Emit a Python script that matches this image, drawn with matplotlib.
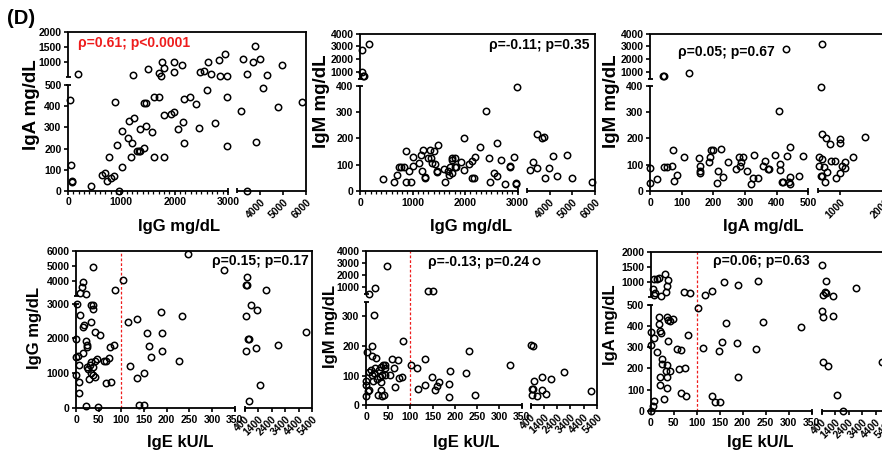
import numpy as np
import matplotlib
matplotlib.use("Agg")
import matplotlib.pyplot as plt

plt.rcParams["font.family"] = ["Liberation Sans", "DejaVu Sans"]
plt.rcParams["font.weight"] = "bold"

W, H = 882, 458
RED = "#ee1c1c"
IGE_CUTOFF = 100

# ---- data: (x, y) pairs ----
igg_iga = [
    (187, 600), (1219, 578), (1494, 767), (1706, 622), (1738, 534), (1769, 1000), (1800, 789),
    (1988, 1000), (1981, 656), (2131, 889), (2469, 656), (2550, 700), (2619, 1000), (2681, 600),
    (2838, 1078), (2850, 545), (2938, 1278), (2988, 545), (3275, 1100), (3435, 600), (3681, 1000),
    (3768, 1544), (3986, 1111), (4319, 567), (4971, 889),
    (31, 430), (50, 123), (69, 44), (81, 40), (425, 24), (638, 76), (694, 85), (738, 46),
    (769, 161), (806, 60), (863, 71), (888, 421), (925, 215), (956, 0), (1013, 111), (1013, 283),
    (1131, 252), (1150, 331), (1175, 160), (1194, 228), (1244, 343), (1288, 190), (1325, 190),
    (1344, 291), (1356, 190), (1419, 201), (1419, 414), (1463, 414), (1463, 307), (1569, 278),
    (1613, 161), (1619, 443), (1706, 446), (1806, 161), (1806, 359), (1931, 364), (1981, 373),
    (2069, 293), (2156, 326), (2181, 433), (2181, 228), (2294, 446), (2394, 410), (2450, 297),
    (2613, 476), (2756, 323), (2975, 445), (2975, 212), (3159, 380), (3435, 0), (3812, 233),
    (4130, 487), (4768, 399), (5826, 421),
]

igg_igm = [
    (32, 2736), (177, 3183), (40, 950), (55, 700), (85, 680),
    (2981, 396), (2392, 306), (3426, 219), (3676, 200), (3750, 204), (1981, 200), (2614, 181),
    (2291, 167), (1487, 177), (867, 154), (1190, 158), (1329, 158), (1405, 153), (1152, 138),
    (1000, 128), (1285, 125), (1354, 127), (1741, 125), (1804, 125), (1741, 117), (1924, 111),
    (2184, 130), (2127, 115), (2456, 124), (2677, 119), (2937, 128), (4147, 134), (4765, 138),
    (3250, 111), (3147, 81), (3441, 87), (3956, 86), (4309, 57), (3794, 51), (4970, 49),
    (5853, 34), (741, 92), (779, 92), (835, 92), (1013, 95), (1127, 108), (1171, 77), (1228, 54),
    (1240, 49), (1361, 105), (1424, 101), (1456, 77), (1460, 73), (1595, 82), (1665, 75),
    (1709, 92), (1759, 67), (1804, 92), (1835, 92), (1987, 80), (2070, 101), (2139, 51),
    (2171, 51), (1620, 35), (1684, 61), (430, 44), (652, 35), (696, 61), (873, 33), (968, 33),
    (930, 76), (2468, 34), (2544, 70), (2608, 57), (2759, 27), (2848, 94), (2861, 92),
    (2975, 32), (2975, 27),
]

iga_igm = [
    (41, 684), (45, 684), (122, 895), (428, 2788), (597, 3209),
    (560, 396), (407, 306), (597, 219), (672, 200), (769, 179), (1000, 198), (1000, 184),
    (1544, 204), (0, 86), (0, 32), (23, 44), (44, 90), (55, 90), (68, 95), (72, 156), (75, 38),
    (84, 61), (107, 129), (156, 127), (158, 96), (158, 77), (158, 70), (185, 109), (188, 129),
    (193, 156), (198, 158), (224, 160), (214, 76), (211, 32), (229, 52), (246, 109), (273, 82),
    (282, 129), (284, 95), (293, 128), (288, 109), (305, 76), (320, 28), (324, 51), (327, 139),
    (342, 51), (356, 96), (363, 114), (374, 82), (377, 82), (395, 139), (412, 103), (412, 80),
    (416, 35), (421, 35), (432, 132), (439, 35), (441, 28), (443, 54), (442, 167), (471, 57),
    (482, 135), (515, 128), (597, 120), (530, 96), (634, 92), (694, 71), (560, 58), (597, 57),
    (657, 35), (791, 113), (880, 114), (895, 51), (992, 67), (1044, 96), (1104, 86), (1111, 111),
    (1283, 129),
]

ige_igg = [
    (37, 4956), (16, 3955), (13, 3644), (9, 3222), (22, 3155), (103, 4111), (85, 3422),
    (248, 5822), (327, 4778), (560, 4289), (486, 3778), (560, 3778), (1968, 3422),
    (3, 3000), (32, 2951), (37, 2970), (38, 2855), (9, 2684), (16, 2329), (18, 2396), (32, 2482),
    (43, 2195), (54, 2090), (0, 1994), (22, 1936), (24, 1821), (25, 1764), (15, 1582), (1, 1467),
    (5, 1486), (7, 1246), (32, 1323), (31, 1246), (46, 1419), (42, 1361), (25, 1169), (27, 1121),
    (37, 1169), (38, 959), (33, 1006), (42, 891), (29, 834), (0, 959), (7, 748), (6, 431),
    (66, 709), (77, 757), (62, 1342), (66, 1361), (73, 1438), (74, 1744), (84, 1821), (21, 48),
    (48, 29), (115, 2463), (119, 1217), (134, 872), (150, 1006), (134, 2568), (157, 2157),
    (160, 1773), (165, 1467), (188, 2768), (190, 2147), (189, 1629), (228, 1361), (234, 2635),
    (140, 77), (150, 77), (486, 2635), (510, 1629), (659, 1994), (700, 1994), (1227, 1716),
    (906, 2949), (1301, 2824), (2906, 1821), (1548, 671), (758, 192), (4930, 2185),
]

ige_igm = [
    (47, 2754), (20, 918), (7, 430), (139, 699), (150, 699), (777, 3192),
    (18, 306), (84, 218), (14, 199), (3, 179), (14, 167), (22, 160), (59, 157), (73, 154),
    (133, 157), (231, 182), (101, 136), (114, 126), (325, 137), (226, 108), (189, 115),
    (400, 204), (601, 201), (1280, 96), (1933, 89), (2913, 113), (676, 83), (526, 56), (601, 55),
    (526, 36), (852, 33), (1229, 53), (1531, 39), (4948, 49),
    (0, 81), (1, 70), (6, 112), (11, 120), (14, 103), (19, 109), (24, 90), (29, 120), (34, 128),
    (39, 137), (43, 126), (37, 103), (31, 94), (16, 81), (5, 47), (7, 52), (0, 33), (27, 36),
    (34, 79), (34, 51), (35, 30), (40, 36), (54, 101), (63, 126), (65, 62), (74, 92), (80, 96),
    (43, 103), (20, 126), (43, 137), (133, 70), (148, 94), (160, 66), (155, 51), (165, 79),
    (118, 55), (187, 73), (187, 27), (246, 36),
]

ige_iga = [
    (7, 1100), (13, 1111), (18, 1133), (31, 1278), (38, 1078), (35, 867), (4, 778), (9, 633),
    (22, 522), (33, 656), (7, 578), (73, 656), (85, 622), (118, 567), (134, 700), (159, 1000),
    (190, 889), (233, 1022), (450, 1556), (697, 1022), (648, 667), (722, 633), (474, 578),
    (1266, 544), (2949, 800),
    (103, 484), (17, 443), (18, 409), (35, 440), (38, 429), (43, 425), (48, 432), (20, 378),
    (22, 365), (0, 371), (0, 309), (7, 343), (38, 327), (82, 359), (14, 277), (25, 246),
    (25, 221), (36, 215), (33, 190), (42, 186), (20, 160), (35, 160), (20, 124), (36, 108),
    (28, 55), (57, 291), (65, 288), (61, 196), (74, 202), (66, 86), (77, 69), (7, 45), (4, 25),
    (0, 0), (114, 295), (149, 280), (156, 324), (163, 414), (188, 320), (190, 158), (228, 293),
    (245, 417), (326, 396), (134, 72), (139, 41), (151, 44),
    (450, 472), (474, 440), (524, 229), (870, 212), (1217, 445), (1514, 74), (1984, 2), (4855, 229),
]

# ---- tick sets ----
igg_ticks = [0, 1000, 2000, 3000, 4000, 5000, 6000]
igg_rot = [4000, 5000, 6000]
igg_minor = [v for v in range(100, 3000, 100) if v % 1000]
iga_ticks = [0, 100, 200, 300, 400, 500, 1000, 2000]
iga_rot = [1000, 2000]
ige_ticks = [0, 50, 100, 150, 200, 250, 300, 350, 400, 1400, 2400, 3400, 4400, 5400]
ige_rot = [400, 1400, 2400, 3400, 4400, 5400]
iga_yticks_a = [0, 100, 200, 300, 400, 500, 1000, 1500, 2000]
igm_yticks_a = [0, 100, 200, 300, 400, 1000, 2000, 3000, 4000]
igg_yticks = [0, 1000, 2000, 3000, 4000, 5000, 6000]
igm_yticks_b = [0, 100, 200, 300, 1000, 2000, 3000, 4000]

fig = plt.figure(figsize=(W / 100, H / 100), dpi=100)


def piecewise(segs):
    d, f = [], []
    for d0, d1, f0, f1 in segs:
        if d and d0 <= d[-1]:
            d0 = d[-1] + 1e-6
        d += [d0, d1]
        f += [f0, f1]
    d, f = np.array(d, float), np.array(f, float)
    return (lambda v: np.interp(v, d, f)), (lambda v: np.interp(v, f, d))


def panel(xsegs, ysegs, pts, xticks, xrot, yticks, xminor=None, cutoff=False):
    # segments given as (data0, data1, pixel0, pixel1); y pixels counted from top
    left, right = xsegs[0][2], xsegs[-1][3]
    bot, top = ysegs[0][2], ysegs[-1][3]
    ax = fig.add_axes([left / W, 1 - bot / H, (right - left) / W, (bot - top) / H])
    xf = [(a, b, (p - left) / (right - left), (q - left) / (right - left)) for a, b, p, q in xsegs]
    yf = [(a, b, (bot - p) / (bot - top), (bot - q) / (bot - top)) for a, b, p, q in ysegs]
    ax.set_xscale("function", functions=piecewise(xf))
    ax.set_yscale("function", functions=piecewise(yf))
    ax.set_xlim(xsegs[0][0], xsegs[-1][1])
    ax.set_ylim(ysegs[0][0], ysegs[-1][1])

    x, y = np.array(pts, float).T
    ax.plot(x, y, "o", ms=4.6, mfc="none", mec="black", mew=1.1, clip_on=False, zorder=3)
    if cutoff:
        ax.axvline(IGE_CUTOFF, color=RED, lw=0.9, ls=(0, (2.2, 1.6)), zorder=1)

    # frame: full top/right, broken left/bottom
    for s in ("left", "bottom"):
        ax.spines[s].set_visible(False)
    for s in ("top", "right"):
        ax.spines[s].set_linewidth(1.3)
    kw = dict(transform=ax.transAxes, color="black", lw=1.3, clip_on=False,
              solid_capstyle="butt", zorder=4)
    cx = 2.5 / (bot - top)
    cy = 2.5 / (right - left)
    for i, (_, _, f0, f1) in enumerate(xf):
        ax.plot([f0, f1], [0, 0], **kw)
        if i > 0:
            ax.plot([f0, f0], [-cx, cx], **kw)
        if i < len(xf) - 1:
            ax.plot([f1, f1], [-cx, cx], **kw)
    for i, (_, _, f0, f1) in enumerate(yf):
        ax.plot([0, 0], [f0, f1], **kw)
        if i > 0:
            ax.plot([-cy, cy], [f0, f0], **kw)
        if i < len(yf) - 1:
            ax.plot([-cy, cy], [f1, f1], **kw)

    ax.set_xticks(xticks, [str(v) for v in xticks])
    ax.set_yticks(yticks, [str(v) for v in yticks])
    if xminor:
        ax.set_xticks(xminor, minor=True)
    ax.tick_params(direction="out", length=3.2, width=1.2, labelsize=7.5, pad=1.5)
    ax.tick_params(which="minor", direction="out", length=1.8, width=0.9)
    for lbl, v in zip(ax.get_xticklabels(), xticks):
        if v in xrot:
            lbl.set_rotation(45)
            lbl.set_rotation_mode("anchor")
            lbl.set_ha("right")
            lbl.set_va("top")
    return ax


panel([(0, 3000, 68, 228), (3000, 6000, 237, 306)], [(0, 500, 190.7, 85.3), (500, 2000, 77, 32)],
      igg_iga, igg_ticks, igg_rot, iga_yticks_a, igg_minor)
panel([(0, 3000, 360, 517.7), (3000, 6000, 527, 595)], [(0, 400, 191, 86), (400, 4000, 79.4, 33.7)],
      igg_igm, igg_ticks, igg_rot, igm_yticks_a, igg_minor)
panel([(0, 500, 650, 808.3), (500, 2000, 818, 885)], [(0, 400, 191, 86), (400, 4000, 79.4, 33.7)],
      iga_igm, iga_ticks, iga_rot, igm_yticks_a)
panel([(0, 350, 76, 234.6), (400, 5400, 244.5, 312)], [(0, 3000, 408, 303.7), (3000, 6000, 296.3, 251.3)],
      ige_igg, ige_ticks, ige_rot, igg_yticks, cutoff=True)
panel([(0, 350, 366, 521.6), (400, 5400, 530.7, 597)], [(0, 350, 405.3, 301.5), (400, 4000, 294.1, 251.3)],
      ige_igm, ige_ticks, ige_rot, igm_yticks_b, cutoff=True)
panel([(0, 350, 650.7, 811.7), (400, 5400, 821.7, 889)], [(0, 500, 411, 304.7), (500, 2000, 297, 252)],
      ige_iga, ige_ticks, ige_rot, iga_yticks_a, cutoff=True)


def txt(x, y, s, **kw):
    fig.text(x / W, 1 - y / H, s, **kw)


txt(21, 19, "(D)", fontsize=14.5, ha="center", va="center")
txt(6, 468, "(E)", fontsize=14.5, ha="left", va="center")

stats = [(78, 43, "ρ=0.61; p<0.0001", RED), (489, 45, "ρ=-0.11; p=0.35", "black"),
         (678, 52, "ρ=0.05; p=0.67", "black"), (212, 261, "ρ=0.15; p=0.17", "black"),
         (428, 262, "ρ=-0.13; p=0.24", "black"), (713, 261, "ρ=0.06; p=0.63", "black")]
for x, y, s, c in stats:
    txt(x, y, s, fontsize=10, color=c, ha="left", va="center")

for x, y, s, fs in [(31, 105, "IgA mg/dL", 13.5), (321, 101, "IgM mg/dL", 13.5),
                    (611, 101, "IgM mg/dL", 13.5), (34, 328, "IgG mg/dL", 12),
                    (330, 326, "IgM mg/dL", 12), (611, 325, "IgA mg/dL", 12)]:
    txt(x, y, s, fontsize=fs, rotation=90, ha="center", va="center")

for x, y, s in [(179, 227, "IgG mg/dL"), (471, 227, "IgG mg/dL"), (763, 227, "IgA mg/dL"),
                (180, 443, "IgE kU/L"), (466, 443, "IgE kU/L"), (760, 443, "IgE kU/L")]:
    txt(x, y, s, fontsize=12, ha="center", va="center")

fig.savefig("out.png", dpi=100)
